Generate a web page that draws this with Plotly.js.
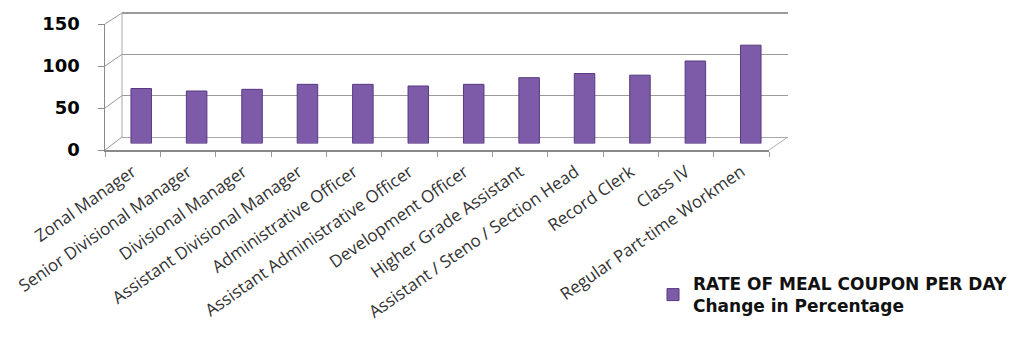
<!DOCTYPE html>
<html>
<head>
<meta charset="utf-8">
<script src="https://cdn.plot.ly/plotly-3.0.1.min.js"></script>
<style>html,body{margin:0;padding:0;background:#fff}#chart{width:1018px;height:341px}</style>
</head>
<body>
<div id="chart"></div>
<script>
// ---- data ----
const categories = [
  "Zonal Manager",
  "Senior Divisional Manager",
  "Divisional Manager",
  "Assistant Divisional Manager",
  "Administrative Officer",
  "Assistant Administrative Officer",
  "Development Officer",
  "Higher Grade Assistant",
  "Assistant / Steno / Section Head",
  "Record Clerk",
  "Class IV",
  "Regular Part-time Workmen"
];
const mealCouponChange = [66, 63, 65, 71, 71, 69, 71, 79, 84, 82, 99, 118];
const seriesName = "RATE OF MEAL COUPON PER DAY<br>Change in Percentage";
const yTickValues = [0, 50, 100, 150];

// ---- geometry (pixels) ----
const W = 1018, H = 341;
const FRONT = {x0: 105, x1: 769, yb: 150, yt: 24};
const BACK  = {x0: 122, x1: 788, yb: 137, yt: 13};
const MID   = {x0: 113.5, x1: 778.5, yb: 143.5, yt: 18.5};
const fx = p => p / W;
const fy = p => 1 - p / H;
const yMax = 150;
const wallMax = 156;   // a little headroom so the 150 gridline is drawn
const idx = categories.map((c, i) => i);

const traces = [
  {x: [], y: [], xaxis: 'x', yaxis: 'y', type: 'scatter', showlegend: false, hoverinfo: 'skip'},
  {x: [], y: [], xaxis: 'x2', yaxis: 'y2', type: 'scatter', showlegend: false, hoverinfo: 'skip'},
  {
    x: idx, y: mealCouponChange, xaxis: 'x3', yaxis: 'y3', type: 'bar',
    name: seriesName, width: 0.37,
    marker: {color: '#7d5ba8', line: {color: '#56397f', width: 1}}
  }
];

// side wall / floor diagonals and back-left edge
const shapes = [];
yTickValues.forEach(v => {
  const yf = FRONT.yb + (FRONT.yt - FRONT.yb) * v / yMax;
  const yb = BACK.yb + (BACK.yt - BACK.yb) * v / yMax;
  shapes.push({type: 'line', xref: 'paper', yref: 'paper',
    x0: fx(FRONT.x0), y0: fy(yf), x1: fx(BACK.x0), y1: fy(yb),
    line: {color: '#9a9a9a', width: 1}});
});
shapes.push({type: 'line', xref: 'paper', yref: 'paper',
  x0: fx(FRONT.x1), y0: fy(FRONT.yb), x1: fx(BACK.x1), y1: fy(BACK.yb),
  line: {color: '#b0b0b0', width: 1}});
shapes.push({type: 'line', xref: 'paper', yref: 'paper',
  x0: fx(BACK.x0), y0: fy(BACK.yb), x1: fx(BACK.x0), y1: fy(BACK.yt),
  line: {color: '#a8a8a8', width: 1}});

const wallTopPx = BACK.yb - (BACK.yb - BACK.yt) * wallMax / yMax;

const layout = {
  width: W, height: H, autosize: false,
  margin: {l: 0, r: 0, t: 0, b: 0},
  paper_bgcolor: '#fff', plot_bgcolor: 'rgba(0,0,0,0)',
  showlegend: true,
  legend: {
    x: fx(653), y: fy(266), xanchor: 'left', yanchor: 'top',
    font: {family: 'DejaVu Sans', size: 17, color: '#111', weight: 'bold'},
    itemwidth: 30, bgcolor: 'rgba(0,0,0,0)', tracegroupgap: 0
  },
  // back wall
  xaxis: {domain: [fx(BACK.x0), fx(BACK.x1)], range: [0, 1], showgrid: false, zeroline: false,
          showticklabels: false, showline: true, linecolor: '#a8a8a8', linewidth: 1, fixedrange: true, anchor: 'y'},
  yaxis: {domain: [fy(BACK.yb), fy(wallTopPx)], range: [0, wallMax], tickvals: yTickValues, showgrid: true,
          gridcolor: '#9a9a9a', gridwidth: 1.5, zeroline: false, showticklabels: false,
          showline: false, fixedrange: true, anchor: 'x'},
  // front frame with labels
  xaxis2: {domain: [fx(FRONT.x0), fx(FRONT.x1)], range: [-0.5, categories.length - 0.5],
           tickmode: 'array', tickvals: idx, ticktext: categories, ticks: '',
           minor: {tickmode: 'linear', tick0: -0.5, dtick: 1, ticks: 'outside', ticklen: 5, tickcolor: '#999', showgrid: false},
           tickangle: -35, ticklabelstandoff: 4,
           tickfont: {family: 'Open Sans', size: 17, color: '#333'},
           showgrid: false, zeroline: false, showline: true, linecolor: '#8a8a8a', linewidth: 1.5,
           fixedrange: true, anchor: 'y2'},
  yaxis2: {domain: [fy(FRONT.yb), fy(FRONT.yt)], range: [0, yMax], tickvals: yTickValues,
           ticks: 'outside', ticklen: 6, tickcolor: '#8a8a8a', ticklabelstandoff: 14,
           tickfont: {family: 'DejaVu Sans', size: 18, color: '#000', weight: 'bold'},
           showgrid: false, zeroline: false, showline: true, linecolor: '#8a8a8a', linewidth: 1.5,
           fixedrange: true, anchor: 'x2'},
  // bars (mid depth)
  xaxis3: {domain: [fx(MID.x0), fx(MID.x1)], range: [-0.5, categories.length - 0.5],
           showgrid: false, zeroline: false, showticklabels: false, showline: false, fixedrange: true, anchor: 'y3'},
  yaxis3: {domain: [fy(MID.yb), fy(MID.yt)], range: [0, yMax], showgrid: false, zeroline: false,
           showticklabels: false, showline: false, fixedrange: true, anchor: 'x3'},
  shapes: shapes
};

Plotly.newPlot('chart', traces, layout, {displayModeBar: false, staticPlot: true});
</script>
</body>
</html>
